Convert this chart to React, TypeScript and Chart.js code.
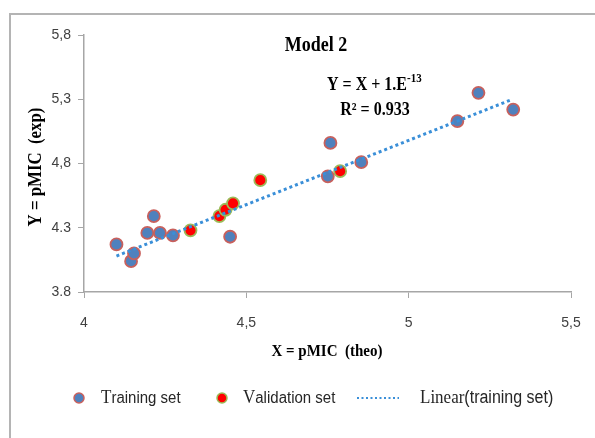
import React, { useEffect, useRef } from 'react';
import { Chart, registerables } from 'chart.js';

Chart.register(...registerables);

const TRAIN_X = [4.10, 4.145, 4.154, 4.195, 4.215, 4.234, 4.274, 4.45, 4.751, 4.759, 4.854, 5.15, 5.215, 5.322];
const TRAIN_Y = [4.17, 4.04, 4.10, 4.26, 4.39, 4.26, 4.24, 4.23, 4.70, 4.96, 4.81, 5.13, 5.35, 5.22];
const VALID_X = [4.328, 4.417, 4.436, 4.459, 4.543, 4.789];
const VALID_Y = [4.28, 4.39, 4.44, 4.49, 4.67, 4.74];
const TREND_X = [4.10, 5.32];
const TREND_Y = [4.08, 5.30];
const X_TICK_LABELS = ['4', '4,5', '5', '5,5'];
const Y_TICK_LABELS = ['3.8', '4.3', '4,8', '5,3', '5,8'];

const TITLE = 'Model 2';
const EQ_MAIN = 'Y = X + 1.E';
const EQ_SUP = '-13';
const R2_TEXT = 'R² = 0.933';
const X_TITLE = 'X = pMIC  (theo)';
const Y_TITLE = 'Y = pMIC  (exp)';

const BLUE = '#4f81bd';
const BLUE_BORDER = '#c8605c';
const RED = '#ff0000';
const RED_BORDER = '#9bbb59';
const TREND_COLOR = '#3a8fd8';

const zip = (xs: number[], ys: number[]) => xs.map((x, i) => ({ x, y: ys[i] }));

const decor = {
  id: 'decor',
  beforeDraw(chart: any) {
    const ctx = chart.ctx;
    ctx.save();
    ctx.fillStyle = '#ffffff';
    ctx.fillRect(0, 0, chart.width, chart.height);
    ctx.strokeStyle = '#b4b4b4';
    ctx.lineWidth = 2;
    ctx.beginPath();
    ctx.moveTo(10, chart.height);
    ctx.lineTo(10, 14);
    ctx.lineTo(chart.width, 14);
    ctx.stroke();
    ctx.restore();
  },
  afterDraw(chart: any) {
    const ctx = chart.ctx;
    const serif = '"Liberation Serif", "Times New Roman", serif';
    const sans = '"Liberation Sans", Arial, sans-serif';
    const SY = 1.15;
    const txt = (s: string, x: number, y: number) => {
      ctx.save();
      ctx.translate(x, y);
      ctx.scale(1, SY);
      ctx.fillText(s, 0, 0);
      ctx.restore();
    };
    ctx.save();
    ctx.fillStyle = '#000000';
    ctx.textBaseline = 'middle';

    ctx.textAlign = 'center';
    ctx.font = `bold 18px ${serif}`;
    txt(TITLE, 316, 46);

    ctx.textAlign = 'left';
    ctx.font = `bold 16px ${serif}`;
    txt(EQ_MAIN, 327, 85);
    const w = ctx.measureText(EQ_MAIN).width;
    ctx.font = `bold 11px ${serif}`;
    txt(EQ_SUP, 327 + w, 79);
    ctx.textAlign = 'center';
    ctx.font = `bold 16px ${serif}`;
    txt(R2_TEXT, 375, 110);

    ctx.font = `bold 15px ${serif}`;
    txt(X_TITLE, 327, 352);
    ctx.save();
    ctx.translate(36, 167);
    ctx.rotate(-Math.PI / 2);
    ctx.scale(1.05, 1.12);
    ctx.font = `bold 16px ${serif}`;
    ctx.fillText(Y_TITLE, 0, 0);
    ctx.restore();

    const ly = 398;
    const marker = (x: number, fill: string, stroke: string) => {
      ctx.beginPath();
      ctx.arc(x, ly, 5, 0, Math.PI * 2);
      ctx.fillStyle = fill;
      ctx.fill();
      ctx.lineWidth = 1.5;
      ctx.strokeStyle = stroke;
      ctx.stroke();
    };
    const twoPart = (x: number, first: string, rest: string, firstFont: string, restFont: string, color: string) => {
      ctx.textAlign = 'left';
      ctx.fillStyle = color;
      ctx.font = firstFont;
      txt(first, x, ly);
      const fw = ctx.measureText(first).width;
      ctx.font = restFont;
      txt(rest, x + fw, ly);
    };
    marker(79, BLUE, BLUE_BORDER);
    twoPart(101, 'T', 'raining set', `17px ${serif}`, `15px ${sans}`, '#262626');
    marker(222, RED, RED_BORDER);
    twoPart(243, 'V', 'alidation set', `17px ${serif}`, `15px ${sans}`, '#262626');
    ctx.beginPath();
    ctx.setLineDash([2, 2.5]);
    ctx.strokeStyle = TREND_COLOR;
    ctx.lineWidth = 2;
    ctx.moveTo(357, ly);
    ctx.lineTo(399, ly);
    ctx.stroke();
    ctx.setLineDash([]);
    twoPart(420, 'Linear', '(training set)', `17px ${serif}`, `16px ${sans}`, '#262626');

    ctx.restore();
  },
};

export default function App() {
  const ref = useRef<HTMLCanvasElement | null>(null);

  useEffect(() => {
    if (!ref.current) return;
    const axisGray = '#a6a6a6';
    const tickFont = { family: '"Liberation Sans", Arial, sans-serif', size: 14 };
    const chart = new Chart(ref.current, {
      type: 'scatter',
      data: {
        datasets: [
          {
            type: 'line',
            label: 'Linear(training set)',
            data: zip(TREND_X, TREND_Y),
            borderColor: TREND_COLOR,
            borderWidth: 3,
            borderDash: [3, 3],
            pointRadius: 0,
            fill: false,
            order: 0,
          } as any,
          {
            label: 'Training set',
            data: zip(TRAIN_X, TRAIN_Y),
            backgroundColor: BLUE,
            borderColor: BLUE_BORDER,
            borderWidth: 1.8,
            pointRadius: 6,
            order: 1,
          },
          {
            label: 'Validation set',
            data: zip(VALID_X, VALID_Y),
            backgroundColor: RED,
            borderColor: RED_BORDER,
            borderWidth: 1.8,
            pointRadius: 6,
            order: 2,
          },
        ],
      },
      options: {
        responsive: false,
        animation: false,
        layout: { padding: { top: 35, right: 24, left: 0, bottom: 0 } },
        plugins: {
          legend: { display: false },
          tooltip: { enabled: false },
          title: { display: false },
        },
        scales: {
          x: {
            type: 'linear',
            min: 4,
            max: 5.5,
            afterFit: (s: any) => { s.height = 146; s.paddingLeft = 0; s.paddingRight = 0; },
            ticks: {
              stepSize: 0.5,
              padding: 17,
              color: '#404040',
              font: tickFont,
              callback: (_v: any, i: number) => X_TICK_LABELS[i],
            },
            grid: { drawOnChartArea: false, drawTicks: true, tickLength: 6, color: axisGray },
            border: { display: true, color: axisGray, width: 1.5 },
          },
          y: {
            type: 'linear',
            min: 3.8,
            max: 5.8,
            afterFit: (s: any) => { s.width = 84; s.paddingTop = 0; s.paddingBottom = 0; },
            ticks: {
              stepSize: 0.5,
              padding: 7,
              color: '#404040',
              font: tickFont,
              callback: (_v: any, i: number) => Y_TICK_LABELS[i],
            },
            grid: { drawOnChartArea: false, drawTicks: true, tickLength: 6, color: axisGray },
            border: { display: true, color: axisGray, width: 1.5 },
          },
        },
      },
      plugins: [decor],
    });
    return () => chart.destroy();
  }, []);

  return (
    <div style={{ position: 'absolute', left: 0, top: 0, width: 595, height: 438, background: '#fff' }}>
      <canvas ref={ref} width={595} height={438} style={{ display: 'block' }} />
    </div>
  );
}
